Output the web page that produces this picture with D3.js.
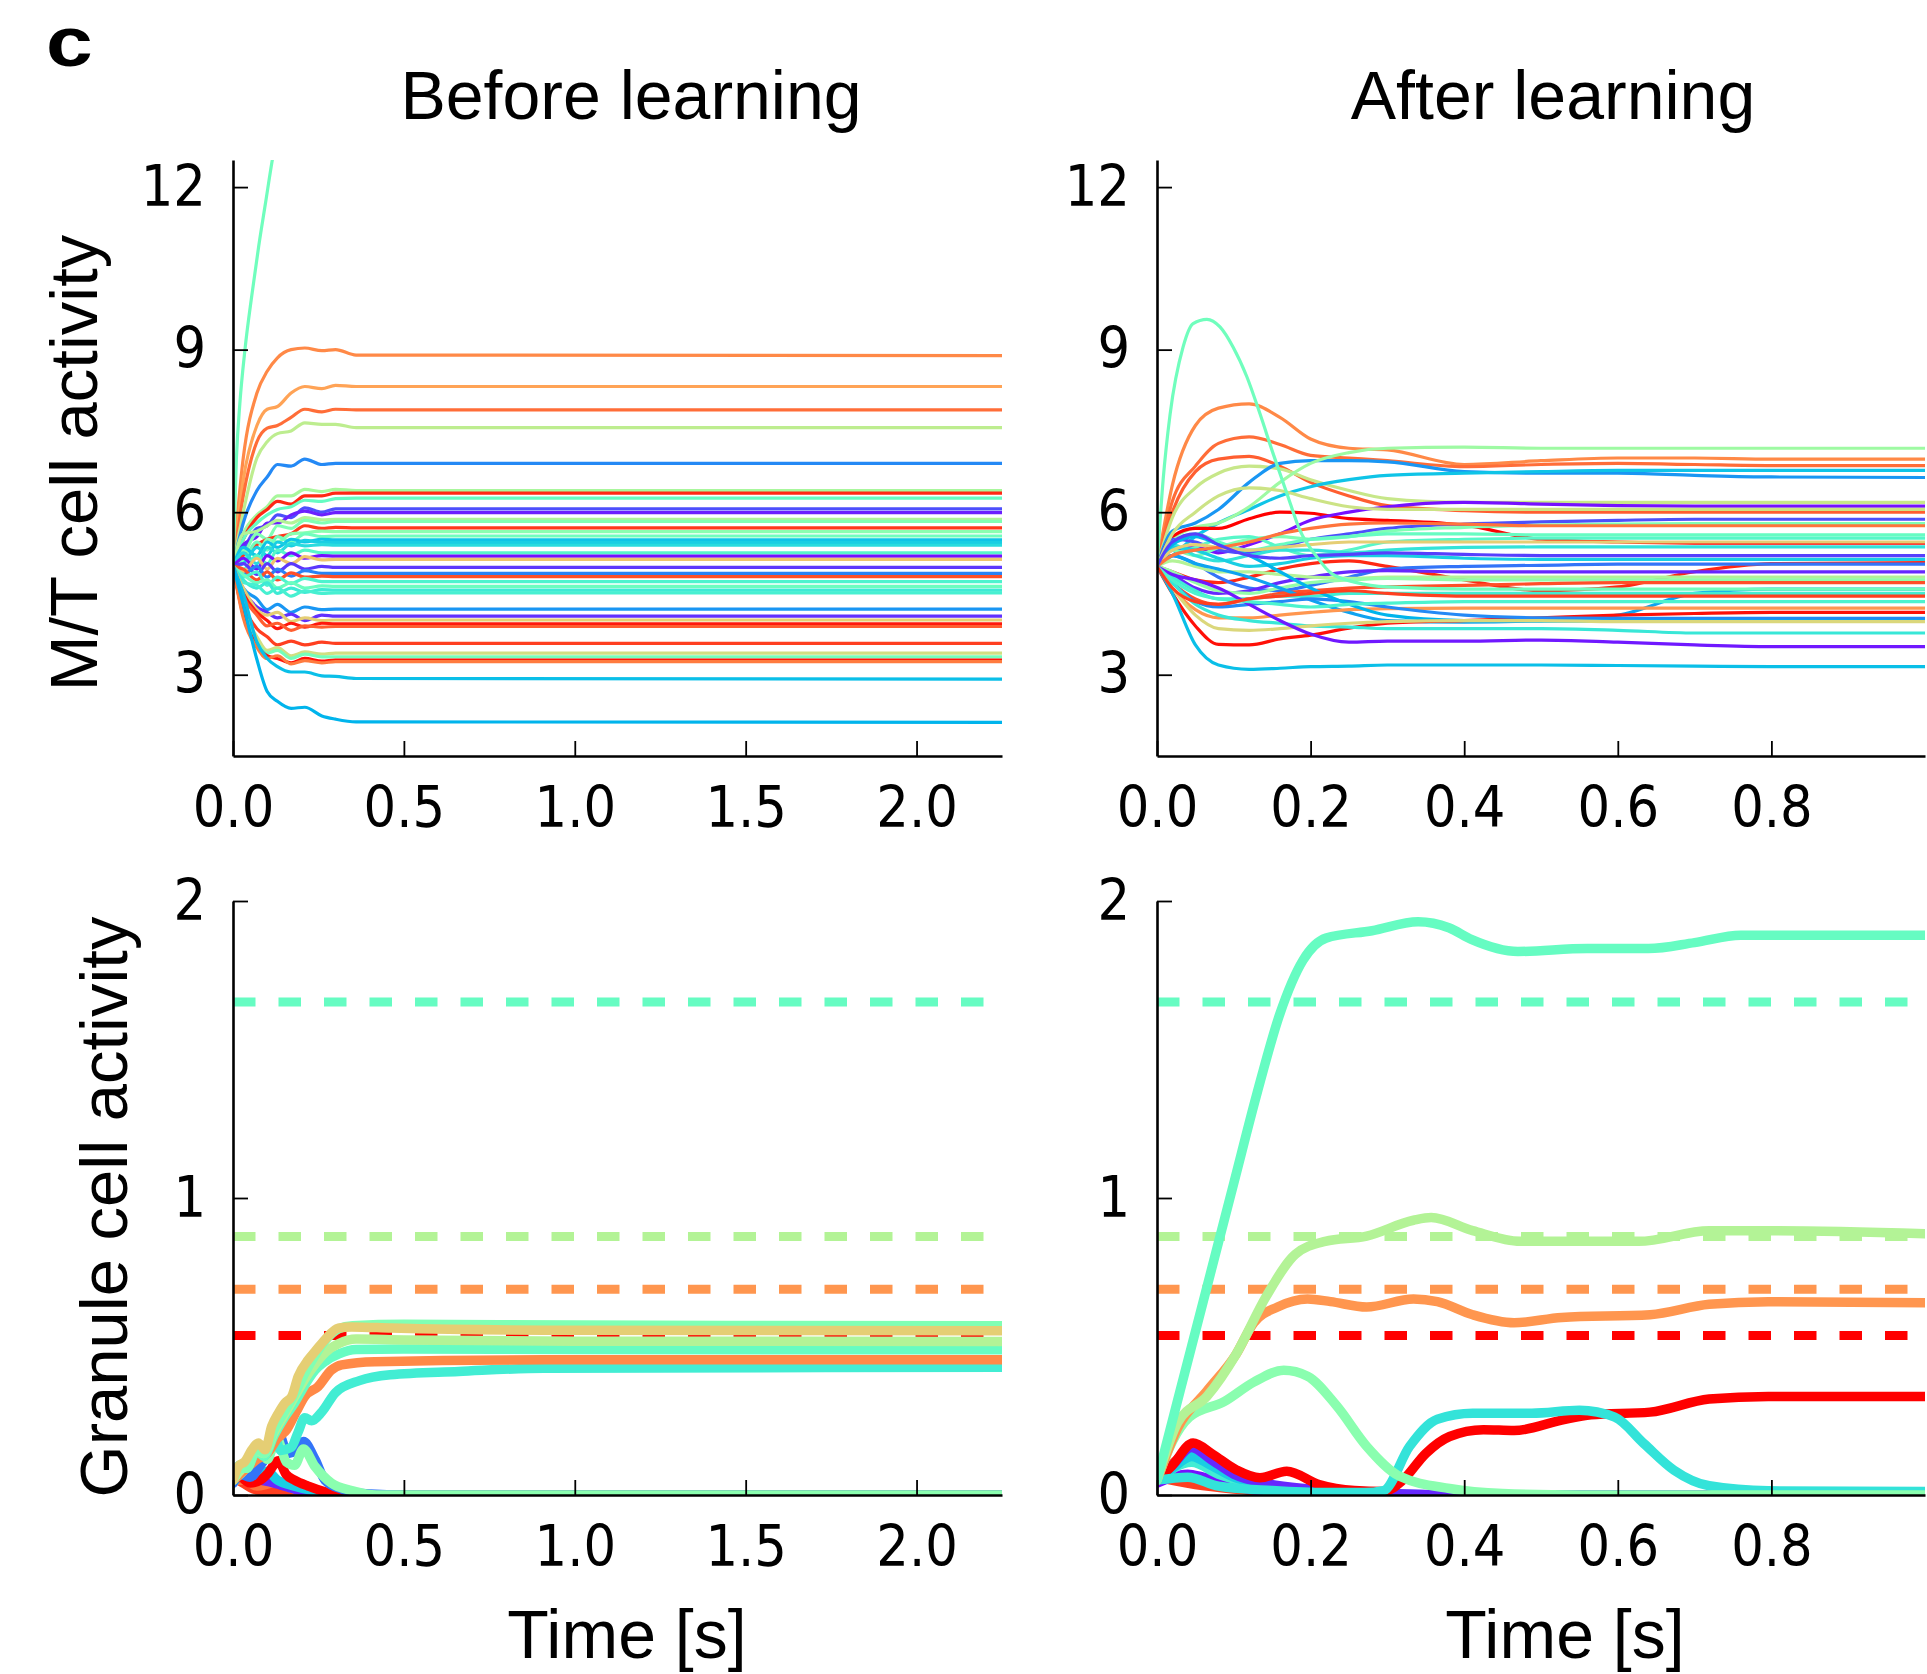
<!DOCTYPE html>
<html>
<head>
<meta charset="utf-8">
<script src="https://cdn.jsdelivr.net/npm/d3@7"></script>
<style>
  body { margin: 0; background: #fff; }
  svg { display: block; }
</style>
</head>
<body>
<div id="chart"></div>
<script>
// ---- data -------------------------------------------------------------

const beforeTicksX = [0, 0.5, 1.0, 1.5, 2.0];
const afterTicksX = [0, 0.2, 0.4, 0.6, 0.8];
const mtTicksY = [3, 6, 9, 12];
const granuleTicksY = [0, 1, 2];

// M/T cells before learning, sampled on a shared time grid
const beforeT = [0, 0.03, 0.07, 0.1, 0.13, 0.17, 0.21, 0.26, 0.3, 0.36, 2.25];
const beforeColors = [0.82, 0.78, 0.86, 0.62, 0.18, 0.58, 0.95, 0.45, 0.1, 0.04,
  0.6, 0.5, 0.93, 0.52, 0.47, 0.28, 0.3, 0.33, 0.42, 0.02,
  0.72, 0.07, 0.17, 0.9, 0.4, 0.46, 0.37, 0.39, 0.2, 0.06,
  0.7, 0.97, 0.88, 0.92, 0.66, 0.48, 0.98, 0.84, 0.27, 0.25];
const beforeMT = [
  [5, 7.0, 8.2, 8.6, 8.85, 9.0, 9.03, 8.98, 9.0, 8.9, 8.89],
  [5, 6.6, 7.6, 7.9, 7.95, 8.2, 8.32, 8.28, 8.34, 8.32, 8.32],
  [5, 6.3, 7.3, 7.55, 7.6, 7.75, 7.9, 7.85, 7.9, 7.89, 7.89],
  [5, 6.0, 7.0, 7.3, 7.45, 7.5, 7.65, 7.62, 7.62, 7.56, 7.56],
  [5, 5.8, 6.4, 6.65, 6.88, 6.85, 6.98, 6.88, 6.9, 6.9, 6.9],
  [5, 5.6, 5.95, 6.1, 6.3, 6.3, 6.42, 6.38, 6.42, 6.4, 6.4],
  [5, 5.5, 5.9, 6.05, 6.2, 6.15, 6.3, 6.3, 6.35, 6.35, 6.35],
  [5, 5.5, 5.8, 5.95, 6.05, 6.1, 6.22, 6.2, 6.25, 6.26, 6.26],
  [5, 5.3, 5.7, 5.75, 5.95, 5.9, 6.08, 6.0, 6.06, 6.06, 6.06],
  [5, 5.4, 5.55, 5.8, 5.8, 5.95, 6.02, 5.95, 5.99, 5.99, 5.99],
  [5, 5.6, 5.65, 5.75, 5.85, 5.8, 5.9, 5.86, 5.87, 5.87, 5.87],
  [5, 5.2, 5.6, 5.5, 5.75, 5.7, 5.85, 5.8, 5.83, 5.83, 5.83],
  [5, 5.2, 5.4, 5.5, 5.55, 5.6, 5.75, 5.7, 5.72, 5.71, 5.71],
  [5, 5.3, 5.2, 5.5, 5.45, 5.6, 5.62, 5.65, 5.64, 5.64, 5.64],
  [5, 5.1, 5.45, 5.3, 5.55, 5.45, 5.6, 5.55, 5.56, 5.56, 5.56],
  [5, 5.35, 5.2, 5.45, 5.35, 5.5, 5.45, 5.5, 5.49, 5.49, 5.49],
  [5, 5.05, 5.35, 5.2, 5.45, 5.38, 5.48, 5.44, 5.44, 5.44, 5.44],
  [5, 5.25, 5.05, 5.35, 5.25, 5.42, 5.38, 5.4, 5.39, 5.39, 5.39],
  [5, 4.95, 5.2, 5.05, 5.3, 5.2, 5.3, 5.25, 5.25, 5.25, 5.25],
  [5, 5.15, 4.95, 5.2, 5.1, 5.25, 5.15, 5.2, 5.19, 5.19, 5.19],
  [5, 4.9, 5.15, 4.95, 5.15, 5.05, 5.18, 5.12, 5.13, 5.13, 5.13],
  [5, 5.05, 4.85, 5.05, 4.9, 5.05, 4.95, 5.0, 4.98, 4.98, 4.98],
  [5, 4.85, 5.0, 4.8, 4.95, 4.82, 4.92, 4.87, 4.87, 4.87, 4.87],
  [5, 4.95, 4.75, 4.9, 4.75, 4.88, 4.8, 4.82, 4.81, 4.81, 4.81],
  [5, 4.8, 4.9, 4.65, 4.8, 4.68, 4.78, 4.72, 4.72, 4.72, 4.72],
  [5, 4.85, 4.7, 4.75, 4.6, 4.7, 4.6, 4.64, 4.63, 4.63, 4.63],
  [5, 4.75, 4.6, 4.7, 4.5, 4.6, 4.52, 4.57, 4.56, 4.56, 4.56],
  [5, 4.7, 4.65, 4.5, 4.6, 4.45, 4.55, 4.5, 4.51, 4.51, 4.51],
  [5, 4.6, 4.4, 4.2, 4.3, 4.15, 4.25, 4.2, 4.21, 4.21, 4.21],
  [5, 4.55, 4.25, 4.15, 4.05, 4.12, 4.0, 4.1, 4.08, 4.08, 4.08],
  [5, 4.6, 4.2, 4.1, 4.15, 3.98, 4.05, 4.0, 4.01, 4.01, 4.01],
  [5, 4.5, 4.15, 4.0, 3.85, 3.95, 3.88, 3.95, 3.94, 3.94, 3.94],
  [5, 4.45, 4.1, 3.9, 3.95, 3.82, 3.9, 3.88, 3.89, 3.89, 3.89],
  [5, 4.3, 3.85, 3.7, 3.55, 3.62, 3.55, 3.6, 3.58, 3.58, 3.58],
  [5, 4.2, 3.7, 3.45, 3.5, 3.35, 3.42, 3.38, 3.4, 3.4, 3.4],
  [5, 4.15, 3.6, 3.4, 3.45, 3.3, 3.38, 3.33, 3.33, 3.33, 3.33],
  [5, 4.1, 3.55, 3.35, 3.3, 3.22, 3.3, 3.25, 3.27, 3.27, 3.27],
  [5, 4.05, 3.5, 3.3, 3.35, 3.2, 3.26, 3.22, 3.24, 3.24, 3.24],
  [5, 4.5, 3.6, 3.3, 3.15, 3.05, 3.05, 2.98, 2.97, 2.93, 2.92],
  [5, 4.3, 3.28, 2.69, 2.51, 2.38, 2.4, 2.24, 2.18, 2.13, 2.12]
];
// the runaway cell that leaves the top of the plot
const beforeRunawayT = [0, 0.01, 0.02, 0.035, 0.055, 0.075, 0.095, 0.115, 0.14];
const beforeRunawayV = [5, 7.0, 8.0, 9.0, 10.0, 10.9, 11.7, 12.5, 13.3];
const beforeRunawayColor = 0.47;

// M/T cells after learning
const afterT = [0, 0.02, 0.05, 0.08, 0.12, 0.16, 0.2, 0.25, 0.3, 0.4, 0.5, 0.6, 0.7, 0.8, 1.0];
const afterColors = [0.82, 0.86, 0.88, 0.64, 0.2, 0.28, 0.56, 1.0, 0.02, 0.1,
  0.5, 0.45, 0.42, 0.35, 0.3, 0.95, 0.15, 0.05, 0.6, 0.54,
  0.9, 0.22, 0.38, 0.8, 0.98, 0.18, 0.25, 0.36, 0.68, 0.03,
  0.27, 0.7, 0.85, 0.65, 0.4, 0.92, 0.08];
const afterMT = [
  [5, 6.5, 7.6, 7.92, 8.0, 7.75, 7.35, 7.18, 7.15, 6.88, 6.95, 7.0, 7.0, 6.98, 6.98],
  [5, 6.2, 6.85, 7.27, 7.39, 7.25, 7.05, 7.0, 6.95, 6.84, 6.88, 6.9, 6.88, 6.86, 6.86],
  [5, 6.0, 6.75, 6.98, 7.03, 6.85, 6.55, 6.3, 6.12, 6.03, 6.0, 6.0, 6.0, 6.0, 6.0],
  [5, 5.9, 6.45, 6.72, 6.85, 6.8, 6.6, 6.4, 6.25, 6.18, 6.18, 6.18, 6.18, 6.18, 6.18],
  [5, 5.65, 5.8, 6.05, 6.55, 6.9, 6.95, 6.95, 6.93, 6.75, 6.72, 6.72, 6.68, 6.65, 6.64],
  [5, 5.2, 5.55, 5.8, 6.05, 6.3, 6.47, 6.6, 6.68, 6.72, 6.75, 6.77, 6.77, 6.77, 6.77],
  [5, 5.5, 5.72, 5.8, 6.1, 6.55, 6.9, 7.1, 7.18, 7.2, 7.18, 7.18, 7.18, 7.18, 7.18],
  [5, 5.55, 5.7, 5.7, 5.88, 6.0, 5.98, 5.88, 5.85, 5.76, 5.5, 5.45, 5.43, 5.43, 5.43],
  [5, 5.3, 5.35, 5.25, 5.4, 5.6, 5.85, 6.0, 6.1, 6.18, 6.15, 6.12, 6.11, 6.11, 6.11],
  [5, 5.5, 5.45, 5.3, 5.25, 5.35, 5.5, 5.6, 5.7, 5.78, 5.82, 5.85, 5.87, 5.87, 5.87],
  [5, 5.3, 5.2, 5.35, 5.5, 5.55, 5.5, 5.55, 5.65, 5.72, 5.76, 5.78, 5.79, 5.79, 5.79],
  [5, 5.45, 5.6, 5.45, 5.3, 5.4, 5.5, 5.55, 5.6, 5.6, 5.58, 5.58, 5.58, 5.58, 5.58],
  [5, 5.2, 5.35, 5.5, 5.55, 5.35, 5.2, 5.3, 5.45, 5.5, 5.52, 5.52, 5.52, 5.52, 5.52],
  [5, 5.4, 5.2, 5.1, 5.2, 5.3, 5.3, 5.25, 5.3, 5.35, 5.36, 5.36, 5.36, 5.36, 5.36],
  [5, 5.35, 5.3, 5.15, 5.0, 5.05, 5.15, 5.2, 5.2, 5.15, 5.13, 5.13, 5.13, 5.13, 5.13],
  [5, 4.9, 4.75, 4.7, 4.8, 4.95, 5.05, 5.1, 5.0, 4.75, 4.55, 4.62, 4.9, 5.05, 5.07],
  [5, 5.2, 5.05, 4.8, 4.6, 4.55, 4.65, 4.8, 4.95, 5.0, 5.02, 5.04, 5.04, 5.04, 5.04],
  [5, 4.85, 4.6, 4.5, 4.55, 4.7, 4.8, 4.9, 4.92, 4.9, 4.9, 4.9, 4.9, 4.9, 4.9],
  [5, 5.1, 5.0, 4.9, 4.9, 4.85, 4.8, 4.78, 4.8, 4.8, 4.8, 4.8, 4.8, 4.8, 4.8],
  [5, 4.9, 4.7, 4.55, 4.5, 4.6, 4.7, 4.75, 4.78, 4.75, 4.75, 4.75, 4.75, 4.75, 4.75],
  [5, 4.7, 4.4, 4.3, 4.4, 4.5, 4.55, 4.6, 4.62, 4.65, 4.68, 4.7, 4.7, 4.7, 4.7],
  [5, 5.2, 5.05, 4.95, 4.8, 4.6, 4.38, 4.15, 4.0, 3.97, 4.0, 4.1, 4.5, 4.58, 4.58],
  [5, 4.8, 4.55, 4.4, 4.4, 4.45, 4.45, 4.5, 4.5, 4.5, 4.5, 4.5, 4.5, 4.5, 4.5],
  [5, 4.6, 4.2, 4.05, 4.05, 4.1, 4.15, 4.2, 4.22, 4.23, 4.23, 4.23, 4.23, 4.23, 4.23],
  [5, 4.5, 3.9, 3.56, 3.55, 3.66, 3.73, 3.86, 3.95, 4.0, 4.05, 4.1, 4.13, 4.15, 4.15],
  [5, 4.7, 4.35, 4.25, 4.3, 4.35, 4.4, 4.35, 4.25, 4.1, 4.05, 4.04, 4.04, 4.04, 4.04],
  [5, 5.4, 5.55, 5.4, 5.2, 4.9, 4.6, 4.3, 4.1, 4.0, 3.99, 3.99, 3.99, 3.99, 3.99],
  [5, 4.7, 4.3, 4.1, 4.0, 3.95, 3.9, 3.88, 3.85, 3.85, 3.85, 3.82, 3.77, 3.77, 3.77],
  [5, 4.6, 4.1, 3.85, 3.82, 3.85, 3.9, 3.95, 3.98, 4.0, 4.0, 3.98, 3.98, 3.98, 3.98],
  [5, 4.85, 4.75, 4.6, 4.3, 4.0, 3.75, 3.6, 3.62, 3.62, 3.64, 3.6, 3.55, 3.52, 3.52],
  [5, 4.5, 3.55, 3.18, 3.1, 3.12, 3.15, 3.16, 3.18, 3.18, 3.18, 3.17, 3.16, 3.15, 3.15],
  [5, 5.3, 5.4, 5.35, 5.3, 5.35, 5.4, 5.45, 5.45, 5.45, 5.45, 5.45, 5.45, 5.45, 5.45],
  [5, 5.2, 5.3, 5.35, 5.45, 5.6, 5.7, 5.78, 5.8, 5.78, 5.75, 5.75, 5.75, 5.75, 5.75],
  [5, 5.6, 6.0, 6.3, 6.45, 6.4, 6.25, 6.1, 6.05, 6.05, 6.05, 6.05, 6.05, 6.05, 6.05],
  [5, 4.75, 4.5, 4.4, 4.35, 4.3, 4.25, 4.3, 4.32, 4.35, 4.35, 4.35, 4.35, 4.35, 4.35],
  [5, 4.6, 4.35, 4.3, 4.4, 4.45, 4.5, 4.55, 4.5, 4.45, 4.45, 4.45, 4.45, 4.45, 4.45],
  [5, 5.45, 5.6, 5.4, 5.2, 5.15, 5.2, 5.22, 5.25, 5.22, 5.2, 5.2, 5.2, 5.2, 5.2]
];
// the cell with the large transient after learning
const afterPeakT = [0, 0.008, 0.017, 0.034, 0.047, 0.065, 0.082, 0.099, 0.117, 0.134,
  0.151, 0.169, 0.186, 0.208, 0.227, 0.26, 0.3, 0.4, 1.0];
const afterPeakV = [5, 6.6, 7.8, 9.05, 9.48, 9.56, 9.42, 9.05, 8.5, 7.82,
  7.09, 6.35, 5.67, 5.18, 4.87, 4.7, 4.62, 4.58, 4.58];
const afterPeakColor = 0.47;

// granule thresholds (dashed)
const thresholdValues = [1.66, 0.87, 0.693, 0.537];
const thresholdColors = [0.45, 0.6, 0.8, 1.0];

// granule cells before learning, [time, activity]
const granuleBeforeColors = [0.92, 0.85, 0.05, 0.3, 1.0, 0.15, 0.52, 0.38, 0.82, 0.45, 0.6, 0.5, 0.7];
const granuleBefore = [
  [[0, 0.06], [0.03, 0.04], [0.06, 0.02], [0.1, 0.012], [0.15, 0.005], [0.25, 0], [2.25, 0]],
  [[0, 0.05], [0.03, 0.05], [0.07, 0.03], [0.12, 0.04], [0.18, 0.02], [0.3, 0], [2.25, 0]],
  [[0, 0.04], [0.02, 0.075], [0.04, 0.05], [0.08, 0.05], [0.12, 0.04], [0.18, 0.02], [0.3, 0], [2.25, 0]],
  [[0, 0.04], [0.03, 0.07], [0.06, 0.05], [0.1, 0.08], [0.13, 0.05], [0.18, 0.03], [0.3, 0.005], [0.4, 0], [2.25, 0]],
  [[0, 0.05], [0.02, 0.06], [0.05, 0.04], [0.08, 0.05], [0.1, 0.07], [0.133, 0.115], [0.155, 0.07], [0.18, 0.05], [0.22, 0.03], [0.3, 0.004], [0.4, 0], [2.25, 0]],
  [[0, 0.04], [0.02, 0.07], [0.05, 0.06], [0.08, 0.1], [0.11, 0.15], [0.133, 0.21], [0.16, 0.14], [0.185, 0.15], [0.206, 0.18], [0.24, 0.12], [0.269, 0.05], [0.318, 0.02], [0.4, 0.003], [0.5, 0], [2.25, 0]],
  [[0, 0.05], [0.03, 0.08], [0.074, 0.15], [0.1, 0.12], [0.128, 0.19], [0.157, 0.11], [0.18, 0.1], [0.206, 0.155], [0.24, 0.096], [0.288, 0.04], [0.347, 0.015], [0.42, 0], [2.25, 0]],
  [[0, 0.05], [0.02, 0.1], [0.04, 0.1], [0.07, 0.15], [0.09, 0.13], [0.12, 0.2], [0.14, 0.15], [0.17, 0.16], [0.19, 0.21], [0.21, 0.26], [0.23, 0.25], [0.26, 0.28], [0.3, 0.345], [0.37, 0.385], [0.46, 0.405], [0.66, 0.416], [0.91, 0.427], [2.25, 0.43]],
  [[0, 0.05], [0.03, 0.08], [0.07, 0.12], [0.1, 0.14], [0.13, 0.19], [0.157, 0.22], [0.185, 0.28], [0.21, 0.332], [0.249, 0.365], [0.288, 0.421], [0.318, 0.438], [0.415, 0.449], [0.912, 0.455], [2.25, 0.455]],
  [[0, 0.05], [0.02, 0.1], [0.04, 0.09], [0.07, 0.15], [0.09, 0.13], [0.12, 0.2], [0.15, 0.26], [0.18, 0.31], [0.21, 0.37], [0.24, 0.42], [0.27, 0.45], [0.31, 0.475], [0.36, 0.49], [0.5, 0.492], [1.0, 0.49], [2.25, 0.489]],
  [[0, 0.05], [0.02, 0.08], [0.04, 0.1], [0.07, 0.15], [0.09, 0.14], [0.12, 0.21], [0.15, 0.27], [0.18, 0.33], [0.21, 0.39], [0.24, 0.44], [0.27, 0.48], [0.31, 0.51], [0.36, 0.525], [0.5, 0.522], [1.0, 0.518], [2.25, 0.517]],
  [[0, 0.05], [0.02, 0.09], [0.04, 0.09], [0.07, 0.16], [0.09, 0.14], [0.12, 0.22], [0.15, 0.28], [0.18, 0.34], [0.21, 0.41], [0.24, 0.47], [0.27, 0.52], [0.31, 0.56], [0.35, 0.57], [0.5, 0.575], [1.0, 0.572], [2.25, 0.57]],
  [[0, 0.05], [0.016, 0.097], [0.035, 0.113], [0.055, 0.152], [0.074, 0.175], [0.094, 0.152], [0.113, 0.231], [0.133, 0.276], [0.152, 0.31], [0.172, 0.332], [0.191, 0.4], [0.22, 0.455], [0.24, 0.483], [0.269, 0.523], [0.308, 0.562], [0.347, 0.566], [0.464, 0.562], [0.912, 0.555], [2.25, 0.553]]
];

// granule cells after learning, [time, activity]
const granuleAfterColors = [0.92, 0.02, 0.38, 0.85, 0.3, 0.05, 1.0, 0.35, 0.52, 0.8, 0.6, 0.45];
const granuleAfter = [
  [[0, 0.06], [0.05, 0.035], [0.1, 0.02], [0.15, 0.01], [0.25, 0.002], [0.35, 0], [1, 0]],
  [[0, 0.04], [0.04, 0.07], [0.06, 0.06], [0.1, 0.03], [0.15, 0.01], [0.25, 0], [1, 0]],
  [[0, 0.05], [0.045, 0.11], [0.08, 0.07], [0.13, 0.035], [0.2, 0.01], [0.3, 0], [1, 0]],
  [[0, 0.05], [0.045, 0.14], [0.08, 0.09], [0.13, 0.04], [0.2, 0.01], [0.3, 0], [1, 0]],
  [[0, 0.05], [0.02, 0.09], [0.045, 0.13], [0.07, 0.1], [0.1, 0.06], [0.14, 0.035], [0.2, 0.015], [0.3, 0.003], [0.4, 0], [1, 0]],
  [[0, 0.05], [0.02, 0.1], [0.045, 0.16], [0.07, 0.12], [0.1, 0.07], [0.14, 0.04], [0.2, 0.02], [0.3, 0.005], [0.4, 0], [1, 0]],
  [[0, 0.05], [0.02, 0.1], [0.047, 0.175], [0.072, 0.138], [0.103, 0.085], [0.134, 0.058], [0.169, 0.08], [0.211, 0.035], [0.257, 0.015], [0.295, 0.012], [0.32, 0.05], [0.35, 0.14], [0.381, 0.197], [0.425, 0.22], [0.465, 0.217], [0.527, 0.252], [0.565, 0.27], [0.642, 0.279], [0.719, 0.323], [0.796, 0.332], [1.0, 0.332]],
  [[0, 0.05], [0.04, 0.06], [0.08, 0.03], [0.15, 0.015], [0.22, 0.008], [0.27, 0.008], [0.295, 0.015], [0.329, 0.164], [0.365, 0.255], [0.411, 0.275], [0.488, 0.275], [0.55, 0.285], [0.596, 0.262], [0.634, 0.173], [0.673, 0.084], [0.719, 0.031], [0.796, 0.014], [1.0, 0.012]],
  [[0, 0.05], [0.02, 0.18], [0.042, 0.262], [0.088, 0.315], [0.126, 0.38], [0.165, 0.42], [0.196, 0.4], [0.234, 0.3], [0.273, 0.164], [0.316, 0.063], [0.381, 0.022], [0.45, 0.005], [0.55, 0], [1.0, 0]],
  [[0, 0.05], [0.027, 0.226], [0.065, 0.35], [0.103, 0.474], [0.126, 0.58], [0.157, 0.633], [0.196, 0.66], [0.226, 0.651], [0.273, 0.633], [0.334, 0.66], [0.365, 0.651], [0.411, 0.607], [0.465, 0.58], [0.527, 0.598], [0.642, 0.607], [0.719, 0.642], [0.796, 0.651], [1.0, 0.647]],
  [[0, 0.05], [0.027, 0.244], [0.065, 0.332], [0.103, 0.474], [0.142, 0.668], [0.18, 0.81], [0.219, 0.854], [0.273, 0.872], [0.334, 0.925], [0.357, 0.934], [0.411, 0.89], [0.473, 0.854], [0.565, 0.854], [0.627, 0.854], [0.719, 0.89], [0.796, 0.89], [1.0, 0.88]],
  [[0, 0.05], [0.03, 0.35], [0.06, 0.65], [0.1, 1.05], [0.13, 1.35], [0.16, 1.62], [0.19, 1.8], [0.22, 1.875], [0.28, 1.9], [0.34, 1.93], [0.38, 1.91], [0.41, 1.87], [0.47, 1.83], [0.56, 1.84], [0.64, 1.84], [0.7, 1.86], [0.76, 1.885], [0.87, 1.885], [1.0, 1.885]]
];

// ---- drawing ----------------------------------------------------------

const width = 1927;
const height = 1674;
const svg = d3.select('#chart')
  .append('svg')
  .attr('width', width)
  .attr('height', height);

// matplotlib "rainbow" colormap
function rainbow(v) {
  const r = Math.min(1, Math.abs(2 * v - 0.5));
  const g = Math.sin(Math.PI * v);
  const b = Math.cos(Math.PI * v / 2);
  return d3.rgb(r * 255, g * 255, b * 255).formatHex();
}

const tickFont = "'DejaVu Sans Condensed', 'DejaVu Sans', sans-serif";
const labelFont = "'Liberation Sans', Arial, Helvetica, sans-serif";

function makePanel(id, xr, yr, xDomain, yDomain) {
  const x = d3.scaleLinear().domain(xDomain).range(xr);
  const y = d3.scaleLinear().domain(yDomain).range([yr[1], yr[0]]);
  svg.append('clipPath').attr('id', id)
    .append('rect')
    .attr('x', xr[0]).attr('y', yr[0])
    .attr('width', xr[1] - xr[0]).attr('height', yr[1] - yr[0]);
  const plot = svg.append('g').attr('clip-path', `url(#${id})`);
  return { x, y, plot, xr, yr };
}

function drawAxes(p, xTicks, yTicks, xFmt, yFmt) {
  const gx = svg.append('g')
    .attr('transform', `translate(0,${p.yr[1]})`)
    .call(d3.axisBottom(p.x).tickValues(xTicks).tickFormat(xFmt)
      .tickSizeInner(-15).tickSizeOuter(0));
  const gy = svg.append('g')
    .attr('transform', `translate(${p.xr[0]},0)`)
    .call(d3.axisLeft(p.y).tickValues(yTicks).tickFormat(yFmt)
      .tickSizeInner(-15).tickSizeOuter(0));

  [gx, gy].forEach(g => {
    g.attr('font-family', tickFont).attr('font-size', 57);
    g.select('.domain').attr('stroke', '#000').attr('stroke-width', 2.6);
    g.selectAll('.tick line').attr('stroke', '#000').attr('stroke-width', 1.8);
    g.selectAll('.tick text').attr('fill', '#000').style('font-stretch', 'condensed');
  });
  gx.selectAll('.tick text').attr('y', 71).attr('dy', null);
  gy.selectAll('.tick text').attr('x', -27).attr('y', 18).attr('dy', null);
}

function drawSeries(p, pts, color, lw) {
  const line = d3.line()
    .x(d => p.x(d[0]))
    .y(d => p.y(d[1]))
    .curve(d3.curveMonotoneX);
  p.plot.append('path')
    .datum(pts)
    .attr('d', line)
    .attr('fill', 'none')
    .attr('stroke', color)
    .attr('stroke-width', lw)
    .attr('stroke-linejoin', 'round')
    .attr('stroke-linecap', 'round');
}

function drawThresholds(p) {
  thresholdValues.forEach((v, i) => {
    p.plot.append('line')
      .attr('x1', p.xr[0]).attr('x2', p.xr[1])
      .attr('y1', p.y(v)).attr('y2', p.y(v))
      .attr('stroke', rainbow(thresholdColors[i]))
      .attr('stroke-width', 9)
      .attr('stroke-dasharray', '22.5 23');
  });
}

const fmt1 = d3.format('.1f');
const fmtInt = d3.format('d');
const mtWidth = 3.2;
const grWidth = 9.5;

// top left: M/T before
const mtBefore = makePanel('clipA', [233, 1002], [160, 756], [0, 2.25], [1.5, 12.5]);
beforeMT.forEach((vals, i) => {
  drawSeries(mtBefore, beforeT.map((t, k) => [t, vals[k]]), rainbow(beforeColors[i]), mtWidth);
});
drawSeries(mtBefore, beforeRunawayT.map((t, k) => [t, beforeRunawayV[k]]), rainbow(beforeRunawayColor), mtWidth);
drawAxes(mtBefore, beforeTicksX, mtTicksY, fmt1, fmtInt);

// top right: M/T after
const mtAfter = makePanel('clipB', [1157, 1925], [160, 756], [0, 1.0], [1.5, 12.5]);
afterMT.forEach((vals, i) => {
  drawSeries(mtAfter, afterT.map((t, k) => [t, vals[k]]), rainbow(afterColors[i]), mtWidth);
});
drawSeries(mtAfter, afterPeakT.map((t, k) => [t, afterPeakV[k]]), rainbow(afterPeakColor), mtWidth);
drawAxes(mtAfter, afterTicksX, mtTicksY, fmt1, fmtInt);

// bottom left: granule before
const grBefore = makePanel('clipC', [233, 1002], [901, 1495], [0, 2.25], [0, 2]);
drawThresholds(grBefore);
granuleBefore.forEach((pts, i) => {
  drawSeries(grBefore, pts, rainbow(granuleBeforeColors[i]), grWidth);
});
drawAxes(grBefore, beforeTicksX, granuleTicksY, fmt1, fmtInt);

// bottom right: granule after
const grAfter = makePanel('clipD', [1157, 1925], [901, 1495], [0, 1.0], [0, 2]);
drawThresholds(grAfter);
granuleAfter.forEach((pts, i) => {
  drawSeries(grAfter, pts, rainbow(granuleAfterColors[i]), grWidth);
});
drawAxes(grAfter, afterTicksX, granuleTicksY, fmt1, fmtInt);

// ---- text -------------------------------------------------------------

svg.append('text')
  .attr('transform', 'translate(46,66) scale(1.2,1)')
  .attr('font-family', labelFont)
  .attr('font-weight', 'bold')
  .attr('font-size', 70)
  .text('c');

const titles = [
  { text: 'Before learning', x: 631, y: 119 },
  { text: 'After learning', x: 1553, y: 119 },
  { text: 'Time [s]', x: 627, y: 1658 },
  { text: 'Time [s]', x: 1565, y: 1658 }
];
svg.selectAll('.title')
  .data(titles)
  .enter()
  .append('text')
  .attr('class', 'title')
  .attr('x', d => d.x)
  .attr('y', d => d.y)
  .attr('text-anchor', 'middle')
  .attr('font-family', labelFont)
  .attr('font-size', 68)
  .text(d => d.text);

const yLabels = [
  { text: 'M/T cell activity', x: 97, y: 463 },
  { text: 'Granule cell activity', x: 127, y: 1207 }
];
svg.selectAll('.ylabel')
  .data(yLabels)
  .enter()
  .append('text')
  .attr('class', 'ylabel')
  .attr('transform', d => `translate(${d.x},${d.y}) rotate(-90)`)
  .attr('text-anchor', 'middle')
  .attr('font-family', labelFont)
  .attr('font-size', 67)
  .text(d => d.text);
</script>
</body>
</html>
